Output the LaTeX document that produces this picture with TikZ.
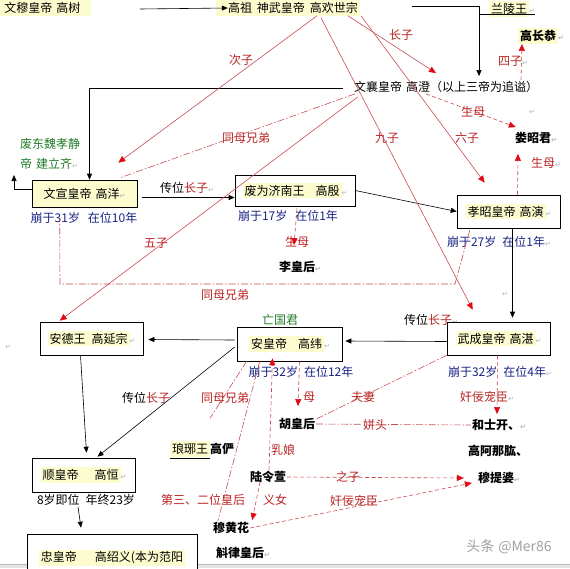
\documentclass[tikz,border=0pt]{standalone}
\usepackage{fontspec}
\setmainfont{Noto Sans CJK SC}
\newfontfamily\symfont{DejaVu Sans}
\usetikzlibrary{arrows.meta,calc,positioning}
\definecolor{hlyel}{RGB}{252,252,206}
\definecolor{lblred}{RGB}{185,35,35}
\definecolor{linered}{RGB}{200,75,80}
\definecolor{tipred}{RGB}{225,10,20}
\definecolor{navy}{RGB}{25,35,130}
\definecolor{leafgreen}{RGB}{30,125,40}
\newcommand{\fs}{\fontsize{12}{14}\selectfont}
\newcommand{\hlbox}[1]{{\setlength{\fboxsep}{2pt}\colorbox{hlyel}{#1}}}
\newcommand{\pmk}{{\symfont\fontsize{7}{8}\selectfont\color{gray!60}↵}}
\newcommand{\gap}[1]{\hspace*{#1pt}}

\begin{document}
\begin{tikzpicture}[x=1pt,y=-1pt,font=\fs,
  every node/.style={inner sep=1pt},
  reign/.style={draw,line width=.6pt,fill=white,inner sep=0pt},
  age/.style={text=navy},
  rel/.style={text=lblred},
  who/.style={font=\fs\bfseries},
  blk/.style={line width=.6pt,-{Triangle[length=6pt,width=5pt]}},
  kin/.style={draw=linered,line width=.6pt,-{Triangle[length=7pt,width=6pt,color=tipred]}},
  kindash/.style={kin,dash pattern=on 4pt off 2.5pt},
  sib/.style={draw=linered,line width=.6pt,dash pattern=on 7pt off 2pt on 1.5pt off 2pt}]
\useasboundingbox (0,0) rectangle (570,568);
\fill[gray!20] (0,564) rectangle (570,568);
\draw[gray!55] (0,564) -- (570,564);

% top generation
\node[inner sep=0pt] (gaoshu) at (45,8) {\hlbox{\gap{3}文穆皇帝\gap{4}高树\gap{8}}};
\node[inner sep=0pt] (gaohuan) at (288,8) {\hlbox{\gap{10}高祖\gap{5}神武皇帝\gap{5}高欢世宗}};
\node[inner sep=0pt] (lanling) at (512,9) {\hlbox{兰陵王}\pmk};
\node[who,inner sep=0pt] (changgong) at (541,36) {\hlbox{高长恭}\pmk};
\node (gaocheng) at (446,87) {文襄皇帝\gap{4}高澄（以上三帝为追谥）};
\node[rel] (sizi) at (513,61) {四子\pmk};
\node[rel] (shengmu1) at (473,112) {生母};
\node (pm1) at (532,112) {\pmk};
\node[who] (louzhaojun) at (536,138) {娄昭君\pmk};
\node[rel] (cizi) at (241,60) {次子};
\node[rel] (zhangzi) at (401,35) {长子};
\node[rel] (tongmu1) at (246,138) {同母兄弟};
\node[rel] (jiuzi) at (387,138) {九子};
\node[rel] (liuzi) at (467,138) {六子};
\node[rel] (shengmu2) at (546,163) {生母\pmk};
\node[text=leafgreen,align=left,anchor=north west,font=\fontsize{12}{20}\selectfont] (feidong) at (19,137) {废东魏孝静\\帝\gap{4}建立齐\pmk};

% second row
\node[reign,fill=hlyel,minimum width=105pt,minimum height=27pt] (wenxuan) at (84.5,193.5) {文宣皇帝\gap{4}高洋\pmk};
\node[age] (wenxuanage) at (84,218) {崩于31岁\gap{8}在位10年};
\node (chuanwei1) at (187,188) {传位\textcolor{lblred}{长子}\pmk};
\node[reign,minimum width=120pt,minimum height=31pt] (jinan) at (295,190.5) {\hlbox{废为济南王\gap{11}高殷}\pmk};
\node[age] (jinanage) at (288,216) {崩于17岁\gap{8}在位1年};
\node[rel] (shengmu3) at (297,242) {生母};
\node[who] (lihuanghou) at (300,267) {李皇后\pmk};
\node[reign,minimum width=103pt,minimum height=33pt] (xiaozhao) at (508.5,211.5) {\hlbox{孝昭皇帝\gap{4}高演}\pmk};
\node[age] (xiaozhaoage) at (499,242) {崩于27岁\gap{6}在位1年\pmk};
\node[rel] (wuzi) at (156,243) {五子};
\node[rel] (tongmu2) at (225,295) {同母兄弟};

% third row
\node (pm2) at (8,347) {\pmk};
\node[reign,minimum width=103pt,minimum height=33pt] (andewang) at (91.5,338.5) {\hlbox{安德王\gap{6}高延宗}\pmk};
\node[text=leafgreen] (wangguo) at (280,320) {亡国君};
\node[reign,minimum width=105pt,minimum height=34pt] (anhuang) at (289.5,344) {\hlbox{安皇帝\gap{11}高纬}\pmk};
\node[age] (anhuangage) at (301,372) {崩于32岁\gap{6}在位12年};
\node (pm3) at (505,294) {\pmk};
\node (chuanwei2) at (431,320) {传位\textcolor{lblred}{长子}\pmk};
\node[reign,minimum width=103pt,minimum height=33pt] (wucheng) at (498.5,338.5) {\hlbox{武成皇帝\gap{4}高湛}\pmk};
\node[age] (wuchengage) at (500,372) {崩于32岁\gap{6}在位4年\pmk};
\node (chuanwei3) at (146,398) {传位\textcolor{lblred}{长子}};
\node[rel] (tongmu3) at (225,398) {同母兄弟};
\node[rel] (mu) at (309,397) {母};
\node[rel] (fuqi) at (363,397) {夫妻};
\node[rel] (jianning1) at (487,397) {奸佞宠臣\pmk};

% court
\node[who] (huhuanghou) at (297,424) {胡皇后};
\node[who] (heshikai) at (499,425) {和士开、\pmk};
\node[who] (gaonagong) at (498,451) {高阿那肱、};
\node[who] (mutipo) at (499,478) {穆提婆\pmk};
\node (langya) at (202,450) {\underline{\hlbox{琅琊王}}\textbf{高俨}};
\node[rel] (runiang) at (283,450) {乳娘};
\node[who] (luling) at (268,477) {陆令萱};
\node[rel] (zhizi) at (348,477) {之子};
\node[rel] (disan) at (203,500) {第三、二位皇后};
\node[rel] (yinv) at (275,500) {义女};
\node[rel] (jianning2) at (354,501) {奸佞宠臣};
\node[who] (muhuanghua) at (231,528) {穆黄花};
\node[who] (hulv) at (243,553) {斛律皇后\pmk};
\node[reign,minimum width=103pt,minimum height=34pt] (shunhuang) at (83.5,475) {\hlbox{顺皇帝\gap{16}高恒}\pmk};
\node (shunhuangage) at (86,500) {8岁即位\gap{6}年终23岁};
\node[reign,minimum width=170pt,minimum height=48pt] (zhonghuang) at (112,558) {\hlbox{忠皇帝\gap{18}高绍义(本为范阳}};
\node[text=gray!75,font=\fontsize{14}{16}\selectfont] (mark) at (509,547) {头条\gap{4}@Mer86};

\coordinate (t0) at (140,9);
\coordinate (t1) at (412,6);
\coordinate (t2) at (480,14);
\coordinate (fd) at (14,175);
\coordinate (f1) at (455,284);
\coordinate (f2) at (60,284);

% black lines
\draw[blk] (t0) -- ($(gaohuan.west)+(12,0)$);
\draw[blk] (t1) -| ($(gaocheng.north)+(33,-4)$);
\draw[line width=.6pt] (t2) -- (t2 -| lanling.east);
\draw[blk] ($(gaocheng.west)+(-10,1)$) -| ($(wenxuan.north)+(5,0)$);
\draw[blk] ($(wenxuan.west)+(0,-4)$) -| (fd);
\draw[blk] ($(wenxuan.east)+(5,4)$) -- ($(jinan.west)+(0,7)$);
\draw[blk] (jinan.east) -- (xiaozhao.west);
\draw[blk] ($(xiaozhao.south)+(4,0)$) -- ($(wucheng.north)+(14,-4)$);
\draw[blk] ($(wucheng.west)+(0,3)$) -- ($(anhuang.east)+(3,-3)$);
\draw[blk] ($(anhuang.west)+(-2,-4)$) -- ($(andewang.east)+(5,1)$);
\draw[blk] ($(andewang.south)+(-11,0)$) -- ($(shunhuang.north)+(3,-5)$);
\draw[blk] ($(anhuang.west)+(-2,3)$) -- ($(shunhuang.north)+(14,-1)$);
\draw[blk] ($(shunhuangage.south)+(-8,0)$) -- ($(zhonghuang.north)+(-31,-6)$);

% sons of gaohuan
\draw[kin] ($(gaohuan.south)+(29,0)$) -- ($(wenxuan.north east)+(-19,-17)$);
\draw[kin] ($(gaohuan.south)+(60,0)$) -- ($(gaocheng.north)+(-10,-7)$);
\draw[kin] ($(gaohuan.south)+(33,2)$) -- ($(wucheng.north west)+(26,-12)$);
\draw[kin] ($(gaohuan.south)+(73,0)$) -- ($(xiaozhao.north west)+(28,-12)$);
\draw[kin] ($(gaocheng.south west)+(5,3)$) -- ($(andewang.north west)+(20,-1)$);

% mothers and favourites
\draw[kindash] ($(gaocheng.north)+(75,0)$) -- ($(changgong.south)+(-19,0)$);
\draw[kindash] ($(gaocheng.south)+(-20,0)$) -- ($(louzhaojun.north west)+(2,-4)$);
\draw[kindash] ($(xiaozhao.north)+(9,0)$) -- ($(louzhaojun.south)+(-18,9)$);
\draw[kindash] ($(jinan.south)+(2,2)$) -- ($(lihuanghou.north)+(-6,-15)$);
\draw[kindash] ($(wucheng.south)+(-1,0)$) -- ($(heshikai.north)+(-2,-4)$);
\draw[kindash] ($(anhuang.south)+(10,0)$) -- ($(huhuanghou.north)+(1,-11)$);
\draw[kindash] ($(luling.north)+(1,0)$) -- ($(anhuang.south)+(-17,-3)$);
\draw[kindash] ($(luling.south)+(-8,-2)$) -- ($(muhuanghua.north east)+(2,-1)$);
\draw[kindash] (luling.east) -- ($(mutipo.west)+(-13,0)$);
\draw[kindash] (muhuanghua.east) -- ($(mutipo.south west)+(-5,-2)$);

% brothers and couples
\draw[sib] ($(gaocheng.south west)+(2,0)$) -- ($(wenxuan.north east)+(-17,-2)$);
\draw[sib] ($(xiaozhao.south west)+(13,2)$) -- (f1) -- (f2) -- ($(wenxuan.south west)+(28,11)$);
\draw[sib] (wucheng.south west) -- ($(huhuanghou.north east)+(0,2)$);
\draw[sib] ($(anhuang.south west)+(10,0)$) -- ($(langya.north)+(8,-22)$);
\draw[sib] ($(anhuang.south west)+(23,0)$) -- ($(muhuanghua.north west)+(6,0)$);
\draw[sib] (huhuanghou.east) -- (heshikai.west);
\node[rel,fill=white] (pintou) at (375,425) {姘头};
\end{tikzpicture}
\end{document}
